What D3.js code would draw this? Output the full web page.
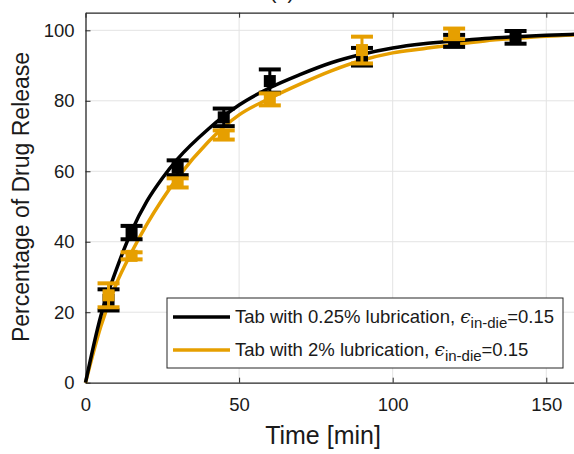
<!DOCTYPE html>
<html lang="en">
<head>
<meta charset="UTF-8">
<title>Drug release</title>
<script src="https://cdn.jsdelivr.net/npm/d3@7"></script>
<style>
    body { margin: 0; background: #fff; }
    svg { font-family: "Liberation Sans", Arial, sans-serif; }
    .grid line { stroke: #e3e3e3; stroke-width: 1px; }
</style>
</head>
<body>
<svg width="574" height="454"></svg>
<script>
    // curve samples
    var curveTime = [0, 5, 10, 15, 20, 25, 30, 40, 50, 60, 70, 80, 90, 100, 110, 120, 130, 140, 150, 160];
    var curveLow = [0, 19, 32, 43, 51.5, 58, 63.5, 72, 78.8, 83.7, 87.5, 90.8, 93.2, 95, 96.2, 97, 97.7, 98.2, 98.6, 98.9];
    var curveHigh = [0, 16, 28, 37, 45, 52, 58.2, 68.4, 76, 80.7, 84.8, 88.5, 91.5, 93.6, 94.8, 96, 97, 97.7, 98.3, 98.7];

    // measured points
    var lowTime = [7.5, 15, 30, 45, 60, 90, 120, 140];
    var lowMean = [23.5, 42.6, 61, 75.3, 85.6, 92.5, 97, 98];
    var lowErr = [3, 1.9, 2.1, 2.5, 3.3, 2.5, 1.7, 1.8];

    var highTime = [7.5, 15, 30, 45, 60, 90, 120];
    var highMean = [24.8, 36, 56.7, 70.3, 80.4, 94.4, 99];
    var highErr = [3.4, 1, 1.3, 1.3, 1.7, 3.8, 1.5];

    var xTicks = [0, 50, 100, 150];
    var yTicks = [0, 20, 40, 60, 80, 100];

    var black = '#000000';
    var orange = '#E69F00';

    var svg = d3.select('svg');

    var x = d3.scaleLinear().domain([0, 160]).range([85.5, 577]);
    var y = d3.scaleLinear().domain([0, 105]).range([382.7, 12.7]);

    var g = svg.append('g');

    // grid
    var grid = g.append('g').attr('class', 'grid');
    grid.selectAll('.gx')
        .data(xTicks.slice(1))
        .enter()
        .append('line')
        .attr('x1', function (d) { return x(d); })
        .attr('x2', function (d) { return x(d); })
        .attr('y1', y(0))
        .attr('y2', y(105));
    grid.selectAll('.gy')
        .data(yTicks.slice(1))
        .enter()
        .append('line')
        .attr('y1', function (d) { return y(d); })
        .attr('y2', function (d) { return y(d); })
        .attr('x1', x(0))
        .attr('x2', x(160));

    // axes
    var xAxis = d3.axisBottom(x).tickValues(xTicks).tickSizeInner(-5).tickSizeOuter(0).tickPadding(15);
    var yAxis = d3.axisLeft(y).tickValues(yTicks).tickSizeInner(-5).tickSizeOuter(0).tickPadding(11);

    var gx = g.append('g').attr('transform', 'translate(0,' + y(0) + ')').call(xAxis);
    var gy = g.append('g').attr('transform', 'translate(' + x(0) + ',0)').call(yAxis);
    var gxTop = g.append('g').attr('transform', 'translate(0,' + y(105) + ')')
        .call(d3.axisTop(x).tickValues(xTicks).tickSizeInner(-5).tickSizeOuter(0).tickFormat(''));

    [gx, gy, gxTop].forEach(function (a) {
        a.select('.domain').attr('stroke', '#262626').attr('stroke-width', 1.3);
        a.selectAll('.tick line').attr('stroke', '#262626').attr('stroke-width', 1);
        a.selectAll('.tick text').attr('font-size', 18.5).attr('fill', '#1a1a1a')
            .attr('font-family', '"Liberation Sans", Arial, sans-serif');
    });

    // curves
    var line = d3.line()
        .x(function (d) { return x(d[0]); })
        .y(function (d) { return y(d[1]); })
        .curve(d3.curveMonotoneX);

    g.append('path')
        .datum(d3.zip(curveTime, curveHigh))
        .attr('d', line)
        .attr('fill', 'none')
        .attr('stroke', orange)
        .attr('stroke-width', 3.5);

    g.append('path')
        .datum(d3.zip(curveTime, curveLow))
        .attr('d', line)
        .attr('fill', 'none')
        .attr('stroke', black)
        .attr('stroke-width', 3.5);

    // error bars
    function drawBars(times, means, errs, color) {
        var data = times.map(function (t, i) {
            return { t: t, m: means[i], e: errs[i] };
        });
        var bars = g.append('g').selectAll('g')
            .data(data)
            .enter()
            .append('g');

        bars.append('line')
            .attr('x1', function (d) { return x(d.t); })
            .attr('x2', function (d) { return x(d.t); })
            .attr('y1', function (d) { return y(d.m - d.e); })
            .attr('y2', function (d) { return y(d.m + d.e); })
            .attr('stroke', color)
            .attr('stroke-width', 3);

        [-1, 1].forEach(function (s) {
            bars.append('line')
                .attr('x1', function (d) { return x(d.t) - 11; })
                .attr('x2', function (d) { return x(d.t) + 11; })
                .attr('y1', function (d) { return y(d.m + s * d.e); })
                .attr('y2', function (d) { return y(d.m + s * d.e); })
                .attr('stroke', color)
                .attr('stroke-width', 4);
        });

        bars.append('rect')
            .attr('x', function (d) { return x(d.t) - 6; })
            .attr('y', function (d) { return y(d.m) - 6; })
            .attr('width', 12)
            .attr('height', 12)
            .attr('fill', color);
    }

    drawBars(lowTime, lowMean, lowErr, black);
    drawBars(highTime, highMean, highErr, orange);

    // legend
    var lg = g.append('g');
    lg.append('rect')
        .attr('x', 167).attr('y', 298)
        .attr('width', 396).attr('height', 70)
        .attr('fill', '#fff')
        .attr('stroke', '#262626')
        .attr('stroke-width', 1);

    var legendItems = [
        { color: black, label: 'Tab with 0.25% lubrication, ', yy: 317 },
        { color: orange, label: 'Tab with 2% lubrication, ', yy: 350 }
    ];

    legendItems.forEach(function (it) {
        lg.append('line')
            .attr('x1', 173).attr('x2', 230)
            .attr('y1', it.yy).attr('y2', it.yy)
            .attr('stroke', it.color)
            .attr('stroke-width', 3.5);
        var t = lg.append('text')
            .attr('x', 235)
            .attr('y', it.yy + 6)
            .attr('font-size', 18.5)
            .attr('fill', '#1a1a1a');
        t.append('tspan').text(it.label);
        t.append('tspan').attr('font-style', 'italic').attr('font-family', '"DejaVu Serif", serif').text('\u03f5');
        t.append('tspan').attr('font-size', 15).attr('dy', 5).text('in-die');
        t.append('tspan').attr('dy', -5).text('=0.15');
    });

    // axis titles
    svg.append('text')
        .attr('x', 323)
        .attr('y', 444)
        .attr('text-anchor', 'middle')
        .attr('font-size', 25)
        .attr('fill', '#1a1a1a')
        .text('Time [min]');

    svg.append('text')
        .attr('transform', 'translate(29,197) rotate(-90)')
        .attr('text-anchor', 'middle')
        .attr('font-size', 23)
        .attr('fill', '#1a1a1a')
        .text('Percentage of Drug Release');

    // panel label, mostly cut off at the top as in the source figure
    svg.append('text')
        .attr('x', 282)
        .attr('y', -1)
        .attr('text-anchor', 'middle')
        .attr('font-size', 20)
        .attr('fill', '#1a1a1a')
        .text('(b)');
</script>
</body>
</html>
